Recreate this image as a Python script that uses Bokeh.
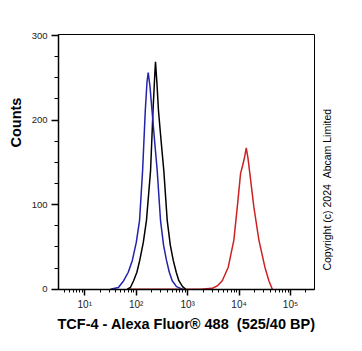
from bokeh.plotting import figure
from bokeh.models import Range1d, Title, Label, CustomJSTickFormatter, LogTicker, SingleIntervalTicker
from bokeh.embed import file_html
from bokeh.resources import INLINE

# Isotype control (blue)
blue_x = [31.6, 45, 57, 70, 84, 100, 116, 133, 150, 162, 171, 185, 203, 228, 256, 297, 340, 388, 440, 501, 608, 785]
blue_y = [0, 2, 10, 20, 34, 55, 81, 140, 211, 245, 256, 240, 211, 175, 140, 81, 52, 34, 20, 10, 3, 0]
# Unlabelled control (black)
black_x = [67, 77, 89, 103, 117, 137, 158, 190, 212, 228, 237, 252, 271, 305, 344, 401, 460, 525, 600, 675, 796, 910]
black_y = [0, 2, 10, 20, 34, 55, 81, 140, 211, 250, 269, 245, 211, 175, 140, 81, 52, 34, 20, 10, 3, 0]
# TCF-4 stained (red)
red_x = [71, 1780, 3000, 3810, 4710, 6160, 7920, 9230, 10700, 11700, 12800, 13800, 14900, 16200, 19400, 24300, 31800, 38000, 44300]
red_y = [0, 0, 1, 4, 10, 26, 58, 97, 137, 146, 156, 167, 155, 137, 97, 58, 26, 10, 0]

x_label = "TCF-4 - Alexa Fluor\u00ae 488 \u00a0(525/40 BP)"
y_label = "Counts"
copyright_text = "Copyright (c) 2024 \u00a0Abcam Limited"

p = figure(width=362, height=351, x_axis_type="log",
           x_range=Range1d(3.08, 293000), y_range=Range1d(-0.4, 301.2),
           output_backend="svg", toolbar_location=None,
           min_border_left=58, min_border_right=48, min_border_top=34, min_border_bottom=62)
p.background_fill_color = "white"
p.border_fill_color = "white"
p.outline_line_color = "black"
p.outline_line_width = 1
p.grid.visible = False

p.line(red_x, red_y, line_color="#cc2222", line_width=1.5)
p.line(black_x, black_y, line_color="black", line_width=1.5)
p.line(blue_x, blue_y, line_color="#2222aa", line_width=1.5)

p.xaxis.ticker = LogTicker(desired_num_ticks=5, num_minor_ticks=10)
p.xaxis.formatter = CustomJSTickFormatter(code="""
const sup = {'0':'\u2070','1':'\u00b9','2':'\u00b2','3':'\u00b3','4':'\u2074','5':'\u2075','6':'\u2076','7':'\u2077','8':'\u2078','9':'\u2079'};
const e = Math.round(Math.log10(tick));
return '10' + String(e).split('').map(c => sup[c] || c).join('');
""")
p.yaxis.ticker = SingleIntervalTicker(interval=100, num_minor_ticks=4)

for ax in (p.xaxis[0], p.yaxis[0]):
    ax.axis_line_color = "black"
    ax.axis_line_width = 1.5
    ax.major_tick_line_color = "black"
    ax.major_tick_line_width = 1.5
    ax.minor_tick_line_color = "black"
    ax.major_tick_in = 0
    ax.minor_tick_in = 0
    ax.major_label_text_font = "Liberation Sans"
    ax.major_label_text_color = "#222222"
    ax.axis_label_text_font = "Liberation Sans"
    ax.axis_label_text_font_style = "bold"
    ax.axis_label_text_color = "black"

p.xaxis.major_tick_out = 6
p.xaxis.minor_tick_out = 3
p.xaxis.major_label_standoff = 3
p.xaxis.major_label_text_font_size = "10px"
p.xaxis.axis_label = x_label
p.xaxis.axis_label_text_font_size = "14.5px"
p.xaxis.axis_label_standoff = 3

p.yaxis.major_tick_out = 7
p.yaxis.minor_tick_out = 4
p.yaxis.major_label_standoff = 4
p.yaxis.major_label_text_font_size = "9.5px"

ytitle = Title(text=y_label, align="left", offset=142, standoff=9,
               text_font="Liberation Sans", text_font_style="bold",
               text_font_size="14.5px", text_color="black")
p.add_layout(ytitle, "left")

# copyright line in the right margin (side panel, so it is not clipped to the frame)
cp = Label(x=503000, y=22, angle=1.5708, text=copyright_text,
           text_font="Liberation Sans", text_font_size="10.5px", text_color="black",
           text_baseline="middle", text_align="left")
p.add_layout(cp, "right")

open("out.html", "w").write(file_html(p, INLINE))
